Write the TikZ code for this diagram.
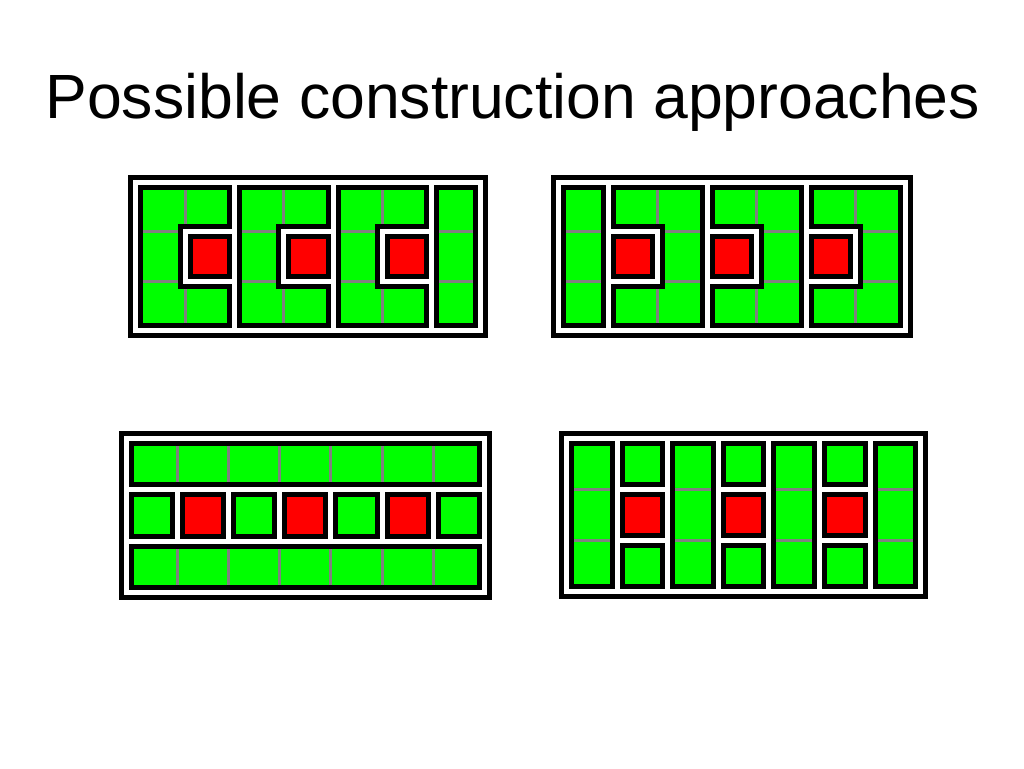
\documentclass[tikz,border=0pt]{standalone}
\usepackage{fontspec}
\setmainfont{Liberation Sans}
\definecolor{cellgreen}{RGB}{0,255,0}
\definecolor{cellred}{RGB}{255,0,0}
\definecolor{gridgray}{RGB}{128,128,128}
\tikzset{
  bandblack/.style={draw=black, line width=15pt, line cap=rect, line join=miter},
  bandwhite/.style={draw=white, line width=5pt, line cap=rect, line join=miter},
  gridline/.style={draw=gridgray, line width=3pt},
  greencell/.style={fill=cellgreen},
  redcell/.style={fill=cellred},
  titletext/.style={anchor=base, inner sep=0pt, font=\fontsize{62.5pt}{75pt}\selectfont},
}
% common cell layer: green everywhere, red at columns 1,3,5 of the middle row, gray grid
\newcommand{\cellsandgrid}{%
  \fill[greencell] (0,0) rectangle (7,3);
  \foreach \k in {1,3,5} \fill[redcell] (\k,1) rectangle ++(1,1);
  \foreach \k in {1,...,6} \draw[gridline] (\k,0) -- (\k,3);
  \foreach \k in {1,2} \draw[gridline] (0,\k) -- (7,\k);
}
% panel A: C shapes opening right
\newcommand{\bordersA}[1]{%
  \draw[#1] (0,0) rectangle (7,3);
  \foreach \k in {2,4,6} \draw[#1] (\k,0) -- (\k,3);
  \foreach \k in {1,3,5} \draw[#1] (\k,1) -- (\k,2) (\k,1) -- ++(1,0) (\k,2) -- ++(1,0);
}
% panel B: C shapes opening left
\newcommand{\bordersB}[1]{%
  \draw[#1] (0,0) rectangle (7,3);
  \foreach \k in {1,3,5} \draw[#1] (\k,0) -- (\k,3);
  \foreach \k in {1,3,5} \draw[#1] (\k,1) -- ++(1,0) (\k,2) -- ++(1,0) (\k+1,1) -- (\k+1,2);
}
% panel C: horizontal bars with a row of single cells
\newcommand{\bordersC}[1]{%
  \draw[#1] (0,0) rectangle (7,3);
  \foreach \k in {1,2} \draw[#1] (0,\k) -- (7,\k);
  \foreach \k in {1,...,6} \draw[#1] (\k,1) -- (\k,2);
}
% panel D: vertical bars with columns of single cells
\newcommand{\bordersD}[1]{%
  \draw[#1] (0,0) rectangle (7,3);
  \foreach \k in {1,...,6} \draw[#1] (\k,0) -- (\k,3);
  \foreach \k in {1,3,5} \draw[#1] (\k,1) -- ++(1,0) (\k,2) -- ++(1,0);
}
\begin{document}
\begin{tikzpicture}[x=1pt, y=-1pt]
  \useasboundingbox (0,0) rectangle (1024,768);
  \node[titletext] (title) at (512.8,118.3) {Possible construction approaches};

  \begin{scope}[shift={(135.8pt,-182.6pt)}, x=49.3pt, y=-49.3pt]
    \cellsandgrid
    \bordersA{bandblack}
    \bordersA{bandwhite}
  \end{scope}

  \begin{scope}[shift={(558.8pt,-182.6pt)}, x=49.53pt, y=-49.3pt]
    \cellsandgrid
    \bordersB{bandblack}
    \bordersB{bandwhite}
  \end{scope}

  \begin{scope}[shift={(126.5pt,-438.5pt)}, x=51.1pt, y=-51.33pt]
    \cellsandgrid
    \bordersC{bandblack}
    \bordersC{bandwhite}
  \end{scope}

  \begin{scope}[shift={(566.5pt,-438.5pt)}, x=50.6pt, y=-51pt]
    \cellsandgrid
    \bordersD{bandblack}
    \bordersD{bandwhite}
  \end{scope}
\end{tikzpicture}
\end{document}
